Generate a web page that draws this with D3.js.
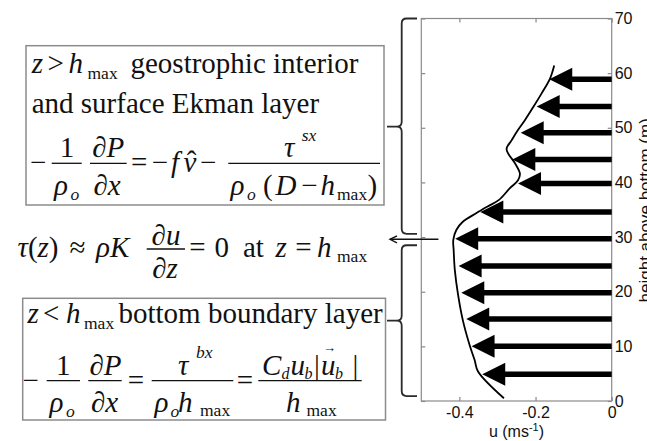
<!DOCTYPE html>
<html>
<head>
<meta charset="utf-8">
<script src="https://cdn.jsdelivr.net/npm/d3@7"></script>
<style>
  html, body { margin: 0; padding: 0; background: #fff; }
  svg { display: block; }
</style>
</head>
<body>
<svg id="fig" width="647" height="441"></svg>
<script>
// ---- data -------------------------------------------------------------
// observed along-channel velocity profile u(z)
const profileZ = [0.5, 5.4, 7.5, 10.2, 14.8, 19.7, 24, 27.6, 29.5, 31.3, 32.8, 34.4, 35.6, 36.8, 38.9, 40.4, 41.6, 43.5, 45.3, 46.2, 47.7, 49.2, 51.4, 53.8, 56.3, 59, 61.4];
const profileU = [-0.283, -0.351, -0.360, -0.373, -0.391, -0.404, -0.412, -0.415, -0.416, -0.408, -0.391, -0.355, -0.326, -0.296, -0.268, -0.246, -0.241, -0.254, -0.272, -0.276, -0.263, -0.250, -0.228, -0.206, -0.184, -0.162, -0.151];
// binned velocity vectors
const arrowZ = [4.9, 10, 15, 19.8, 24.7, 29.7, 34.6, 39.8, 44.2, 49.1, 53.9, 58.9];
const arrowU = [-0.340, -0.368, -0.382, -0.395, -0.402, -0.411, -0.345, -0.246, -0.261, -0.239, -0.197, -0.164];
const xTicks = [-0.4, -0.2, 0];
const yTicks = [0, 10, 20, 30, 40, 50, 60, 70];
const hMax = 29.6;                    // height of the velocity maximum
const upperLayer = [30.6, 70, 50.2];  // brace extent (bottom, top, tip)
const lowerLayer = [0.9, 28.5, 14.7];

// ---- setup ------------------------------------------------------------
const svg = d3.select('#fig');
const SERIF = "'Liberation Serif','Times New Roman',Times,serif";
const SANS = "'Liberation Sans',Arial,Helvetica,sans-serif";
const FS = 29, SUB = 17.5, IDX = 16;
const AXIS = '#8a8a8a';

const plot = { left: 421.3, right: 611.7, top: 18.5, bottom: 401 };
const x = d3.scaleLinear().domain([-0.5, 0]).range([plot.left, plot.right]);
const y = d3.scaleLinear().domain([0, 70]).range([plot.bottom, plot.top]);

// ---- text helpers -----------------------------------------------------
function tx(g, px, py, str, o = {}) {
  return g.append('text')
    .attr('x', px).attr('y', py)
    .attr('font-family', o.sans ? SANS : SERIF)
    .attr('font-size', o.size || FS)
    .attr('font-style', o.it ? 'italic' : null)
    .attr('text-anchor', o.anchor || 'start')
    .attr('fill', '#111')
    .text(str);
}
function rich(g, px, py, parts, o = {}) {
  const t = g.append('text')
    .attr('x', px).attr('y', py)
    .attr('font-family', SERIF)
    .attr('font-size', o.size || FS)
    .attr('text-anchor', o.anchor || 'start')
    .attr('fill', '#111');
  parts.forEach(([s, it]) => t.append('tspan').attr('font-style', it ? 'italic' : 'normal').text(s));
  return t;
}
function bar(g, x0, x1, yb) {
  g.append('line').attr('x1', x0).attr('x2', x1).attr('y1', yb).attr('y2', yb)
    .attr('stroke', '#111').attr('stroke-width', 1.3);
}
function box(g, x0, y0, x1, y1) {
  g.append('rect').attr('x', x0).attr('y', y0).attr('width', x1 - x0).attr('height', y1 - y0)
    .attr('fill', 'none').attr('stroke', '#8c8c8c').attr('stroke-width', 1.5);
}

const eq = svg.append('g');

// ---- upper box: geostrophic interior ---------------------------------
box(eq, 26, 45.7, 384, 205);
tx(eq, 31.7, 73.3, 'z', { it: 1 });
tx(eq, 47.5, 73.3, '>');
tx(eq, 68.5, 73.3, 'h', { it: 1 });
tx(eq, 87.5, 79, 'max', { size: SUB });
tx(eq, 130.5, 73.3, 'geostrophic interior');
tx(eq, 31.7, 113.3, 'and surface Ekman layer');
{
  const yb = 163.3, yn = 156.7, yd = 195, yo = yb + 9;
  tx(eq, 38.3, yo, '\u2212', { anchor: 'middle' });
  bar(eq, 51.7, 81.7, yb);
  tx(eq, 67, yn, '1', { anchor: 'middle' });
  tx(eq, 54, yd, '\u03c1', { it: 1 });
  tx(eq, 70.5, yd + 5, 'o', { it: 1, size: SUB });
  bar(eq, 90, 126.7, yb);
  rich(eq, 108.3, yn, [['\u2202', 0], ['P', 1]], { anchor: 'middle' });
  rich(eq, 107, yd, [['\u2202', 0], ['x', 1]], { anchor: 'middle' });
  tx(eq, 139.2, yo, '=', { anchor: 'middle' });
  tx(eq, 160, yo, '\u2212', { anchor: 'middle' });
  tx(eq, 171, yo, 'f', { it: 1 });
  tx(eq, 183.5, yo, 'v', { it: 1 });
  tx(eq, 191.5, yo - 1, '\u02c6', { anchor: 'middle' });
  tx(eq, 208.3, yo, '\u2212', { anchor: 'middle' });
  bar(eq, 228.3, 380, yb);
  tx(eq, 284, yn, '\u03c4', { it: 1 });
  tx(eq, 301.7, 141, 'sx', { it: 1, size: SUB });
  tx(eq, 230.5, yd, '\u03c1', { it: 1 });
  tx(eq, 247, yd + 5, 'o', { it: 1, size: SUB });
  tx(eq, 263, yd, '(');
  tx(eq, 275.5, yd, 'D', { it: 1 });
  tx(eq, 309.5, yd, '\u2212', { anchor: 'middle' });
  tx(eq, 320.5, yd, 'h', { it: 1 });
  tx(eq, 337, yd + 5, 'max', { size: SUB });
  tx(eq, 367.5, yd, ')');
}

// ---- stress condition at the velocity maximum --------------------------
{
  const yb = 249, yn = 245, yd = 278, ym = 257;
  rich(eq, 17.5, ym, [['\u03c4', 1], ['(', 0], ['z', 1], [')', 0]]);
  tx(eq, 77.5, ym, '\u2248', { anchor: 'middle' });
  rich(eq, 96, ym, [['\u03c1', 1], ['K', 1]]);
  bar(eq, 146.7, 185, yb);
  rich(eq, 166, yn, [['\u2202', 0], ['u', 1]], { anchor: 'middle' });
  rich(eq, 165, yd, [['\u2202', 0], ['z', 1]], { anchor: 'middle' });
  tx(eq, 197.5, ym, '=', { anchor: 'middle' });
  tx(eq, 214.5, ym, '0');
  tx(eq, 243, ym, 'at');
  tx(eq, 275.5, ym, 'z', { it: 1 });
  tx(eq, 303.5, ym, '=', { anchor: 'middle' });
  tx(eq, 317, ym, 'h', { it: 1 });
  tx(eq, 337, ym + 5, 'max', { size: SUB });
}

// ---- lower box: bottom boundary layer ----------------------------------
box(eq, 22.7, 298.3, 385.5, 420);
tx(eq, 27.5, 323.3, 'z', { it: 1 });
tx(eq, 43, 323.3, '<');
tx(eq, 66, 323.3, 'h', { it: 1 });
tx(eq, 84, 329, 'max', { size: SUB });
tx(eq, 118.5, 323.3, 'bottom boundary layer');
{
  const yb = 380.7, yn = 375, yd = 411.7, yo = yb + 9;
  tx(eq, 30.8, yo, '\u2212', { anchor: 'middle' });
  bar(eq, 46.7, 80, yb);
  tx(eq, 63.3, yn, '1', { anchor: 'middle' });
  tx(eq, 49.5, yd, '\u03c1', { it: 1 });
  tx(eq, 66, yd + 5, 'o', { it: 1, size: SUB });
  bar(eq, 88.3, 121.7, yb);
  rich(eq, 105.5, yn, [['\u2202', 0], ['P', 1]], { anchor: 'middle' });
  rich(eq, 104.5, yd, [['\u2202', 0], ['x', 1]], { anchor: 'middle' });
  tx(eq, 136, yo, '=', { anchor: 'middle' });
  bar(eq, 151.7, 233.3, yb);
  tx(eq, 178, yn, '\u03c4', { it: 1 });
  tx(eq, 196, 358, 'bx', { it: 1, size: SUB });
  tx(eq, 154.5, yd, '\u03c1', { it: 1 });
  tx(eq, 170.5, yd + 5, 'o', { it: 1, size: SUB });
  tx(eq, 178, yd, 'h', { it: 1 });
  tx(eq, 200, yd + 4, 'max', { size: SUB });
  tx(eq, 245, yo, '=', { anchor: 'middle' });
  bar(eq, 258.3, 361.7, yb);
  tx(eq, 262, yn, 'C', { it: 1 });
  tx(eq, 281.5, yn + 4, 'd', { it: 1, size: IDX });
  tx(eq, 290.5, yn, 'u', { it: 1 });
  tx(eq, 304.5, yn + 4, 'b', { it: 1, size: IDX });
  tx(eq, 317, yn, '|', { anchor: 'middle' });
  tx(eq, 321, yn, 'u', { it: 1 });
  tx(eq, 329.5, 352, '\u2192', { anchor: 'middle', size: 13 });
  tx(eq, 335, yn + 4, 'b', { it: 1, size: IDX });
  tx(eq, 355.5, yn, '|', { anchor: 'middle' });
  tx(eq, 286, yd, 'h', { it: 1 });
  tx(eq, 306.5, yd + 4, 'max', { size: SUB });
}

// ---- braces grouping the layers --------------------------------------
function brace([zb, zt, ztip]) {
  const xv = 401.7, xe = 417, xt = 387;
  const y0 = y(zt), y1 = y(zb), ym = y(ztip), r = 5;
  return `M${xe},${y0} L${xv + r},${y0} Q${xv},${y0} ${xv},${y0 + r} L${xv},${ym - r} Q${xv},${ym} ${xv - r},${ym} L${xt},${ym}` +
         ` M${xv - r},${ym} Q${xv},${ym} ${xv},${ym + r} L${xv},${y1 - r} Q${xv},${y1} ${xv + r},${y1} L${xe},${y1}`;
}
const br = svg.append('g').attr('fill', 'none').attr('stroke', '#2a2a2a').attr('stroke-width', 1.8);
br.append('path').attr('d', brace(upperLayer));
br.append('path').attr('d', brace(lowerLayer));

// ---- axes box ---------------------------------------------------------
const ax = svg.append('g');
ax.append('rect')
  .attr('x', plot.left).attr('y', plot.top)
  .attr('width', plot.right - plot.left).attr('height', plot.bottom - plot.top)
  .attr('fill', 'none').attr('stroke', AXIS).attr('stroke-width', 1.2);

function styleAxis(g) {
  g.select('.domain').remove();
  g.selectAll('.tick line').attr('stroke', AXIS).attr('stroke-width', 1.2);
  g.selectAll('.tick text').attr('fill', '#111').attr('font-family', SANS).attr('font-size', 16);
}
const fmtX = d => d === 0 ? '0' : d.toFixed(1);
ax.append('g').attr('transform', `translate(0,${plot.bottom})`)
  .call(d3.axisBottom(x).tickValues(xTicks).tickFormat(fmtX).tickSizeInner(-4).tickSizeOuter(0).tickPadding(6))
  .call(styleAxis);
ax.append('g').attr('transform', `translate(0,${plot.top})`)
  .call(d3.axisTop(x).tickValues(xTicks).tickFormat('').tickSizeInner(-4).tickSizeOuter(0))
  .call(styleAxis);
ax.append('g').attr('transform', `translate(${plot.left},0)`)
  .call(d3.axisLeft(y).tickValues(yTicks).tickFormat('').tickSizeInner(-4).tickSizeOuter(0))
  .call(styleAxis);
ax.append('g').attr('transform', `translate(${plot.right},0)`)
  .call(d3.axisRight(y).tickValues(yTicks).tickFormat(d3.format('d')).tickSizeInner(-4).tickSizeOuter(0).tickPadding(3))
  .call(styleAxis);

// axis titles
const xl = ax.append('text')
  .attr('x', (plot.left + plot.right) / 2).attr('y', 437)
  .attr('text-anchor', 'middle').attr('font-family', SANS).attr('font-size', 16).attr('fill', '#111');
xl.append('tspan').text('u (ms');
xl.append('tspan').attr('font-size', 11).attr('dy', -6).text('-1');
xl.append('tspan').attr('dy', 6).text(')');
ax.append('text')
  .attr('transform', `translate(651,${y(34.9)}) rotate(-90)`)
  .attr('text-anchor', 'middle').attr('font-family', SANS).attr('font-size', 17).attr('fill', '#111')
  .text('height above bottom (m)');

// ---- profile curve ------------------------------------------------------
const prof = profileZ.map((z, i) => ({ z, u: profileU[i] }));
svg.append('path')
  .datum(prof)
  .attr('fill', 'none').attr('stroke', '#000').attr('stroke-width', 1.8)
  .attr('d', d3.line().x(d => x(d.u)).y(d => y(d.z)).curve(d3.curveCatmullRom.alpha(0.5)));

// ---- velocity arrows ----------------------------------------------------
const HEAD = 23, HALF = 11.5, SHAFT = 5.5;
const arrows = arrowZ.map((z, i) => ({ z, u: arrowU[i] }));
svg.append('g').selectAll('path').data(arrows).join('path')
  .attr('fill', '#000')
  .attr('d', d => {
    const xt = x(d.u), x0 = x(0), yy = y(d.z), xb = xt + HEAD;
    return `M${xt},${yy} L${xb},${yy - HALF} L${xb},${yy - SHAFT / 2} L${x0},${yy - SHAFT / 2}` +
           ` L${x0},${yy + SHAFT / 2} L${xb},${yy + SHAFT / 2} L${xb},${yy + HALF} Z`;
  });

// ---- pointer from the stress condition to h_max ------------------------
const py = y(hMax);
const ptr = svg.append('g').attr('fill', 'none').attr('stroke', '#111').attr('stroke-width', 1.4);
ptr.append('line').attr('x1', 390).attr('x2', x(-0.455)).attr('y1', py).attr('y2', py);
ptr.append('path').attr('d', `M397,${py - 3.5} L390,${py} L397,${py + 3.5}`);
</script>
</body>
</html>
